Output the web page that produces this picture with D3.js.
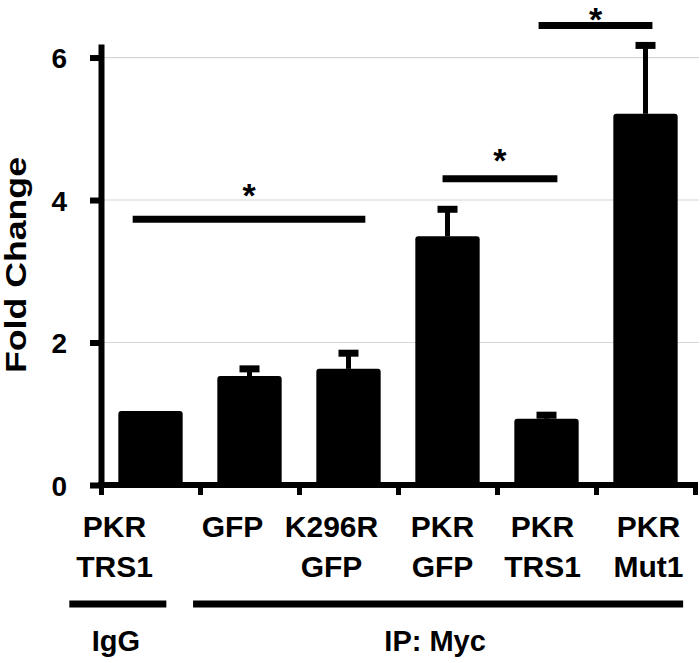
<!DOCTYPE html>
<html>
<head>
<meta charset="utf-8">
<script src="https://cdn.jsdelivr.net/npm/d3@7/dist/d3.min.js"></script>
<style>
  html, body { margin: 0; padding: 0; background: #fff; }
  svg { display: block; }
  text { font-family: "Liberation Sans", Arial, sans-serif; font-weight: bold; fill: #000; }
</style>
</head>
<body>
<svg id="chart" width="700" height="663"></svg>
<script>
// ---- data ----
const labelTop    = ["PKR", "GFP", "K296R", "PKR", "PKR", "PKR"];
const labelBottom = ["TRS1", "", "GFP", "GFP", "TRS1", "Mut1"];
const values      = [1.04, 1.53, 1.63, 3.49, 0.93, 5.21];
const errors      = [0, 0.10, 0.22, 0.38, 0.05, 0.96];
const yTicks      = [0, 2, 4, 6];
const yLabel      = "Fold Change";
const groupNames  = ["IgG", "IP: Myc"];
const groupFrom   = [-0.32, 0.93];   // category units
const groupTo     = [0.66, 5.88];
// significance brackets (category units and fold-change units)
const sigFrom  = [0.32, 3.45, 4.42];
const sigTo    = [2.67, 4.61, 5.57];
const sigLevel = [3.73, 4.30, 6.45];
const sigStarY = [4.14, 4.63, 6.61];
const sigText  = ["*", "*", "*"];

// ---- layout ----
const svg = d3.select("#chart");
const x0 = 101, x1 = 695, yBase = 485, yTop = 44;
const n = values.length;
const idx = d3.range(n);

const xBand = d3.scaleBand().domain(idx).range([x0, x1]).paddingInner(0.35).paddingOuter(0.175);
const xPos = d3.scaleLinear().domain([0, n]).range([x0, x1]);
const y = d3.scaleLinear().domain([0, 6.19]).range([yBase, yTop]);

// gridlines
svg.append("g").selectAll("line").data(yTicks.filter(d => d > 0)).join("line")
  .attr("x1", x0).attr("x2", 699)
  .attr("y1", d => y(d)).attr("y2", d => y(d))
  .attr("stroke", "#d6d6d6").attr("stroke-width", 1.2);

// bars
svg.append("g").selectAll("rect").data(idx).join("rect")
  .attr("x", i => xBand(i))
  .attr("width", xBand.bandwidth())
  .attr("y", i => y(values[i]))
  .attr("height", i => y(0) - y(values[i]))
  .attr("rx", 3)
  .attr("fill", "#000");

// error bars
const eb = svg.append("g");
idx.filter(i => errors[i] > 0).forEach(i => {
  const cx = xBand(i) + xBand.bandwidth() / 2;
  eb.append("line")
    .attr("x1", cx).attr("x2", cx)
    .attr("y1", y(values[i])).attr("y2", y(values[i] + errors[i]))
    .attr("stroke", "#000").attr("stroke-width", 5);
  eb.append("line")
    .attr("x1", cx - 10).attr("x2", cx + 10)
    .attr("y1", y(values[i] + errors[i])).attr("y2", y(values[i] + errors[i]))
    .attr("stroke", "#000").attr("stroke-width", 7);
});

// y axis
const yAxis = svg.append("g").attr("transform", `translate(${x0},0)`)
  .call(d3.axisLeft(y).tickValues(yTicks).tickFormat(d3.format("d"))
    .tickSize(11).tickSizeOuter(0).tickPadding(23));
yAxis.select(".domain").attr("stroke", "#000").attr("stroke-width", 6);
yAxis.selectAll(".tick line").attr("stroke", "#000").attr("stroke-width", 6);
yAxis.selectAll(".tick text")
  .style("font-family", "'Liberation Sans', Arial, sans-serif")
  .style("font-weight", "bold").attr("font-size", 28).attr("fill", "#000").attr("dy", "0.36em");

// x axis
const xAxis = svg.append("g").attr("transform", `translate(0,${yBase})`)
  .call(d3.axisBottom(xPos).tickValues(d3.range(n + 1)).tickFormat("")
    .tickSize(10).tickSizeOuter(0));
xAxis.select(".domain").attr("stroke", "#000").attr("stroke-width", 6)
  .attr("d", `M${x0 - 3},0H${x1 + 3}`);
xAxis.selectAll(".tick line").attr("stroke", "#000").attr("stroke-width", 5);

// category labels
const nudge = [-36, -17, -17, -5, -4, 3];
const lab = svg.append("g").attr("font-size", 30).attr("text-anchor", "middle");
idx.forEach(i => {
  const cx = xBand(i) + xBand.bandwidth() / 2 + nudge[i];
  lab.append("text").attr("x", cx).attr("y", 537).text(labelTop[i]);
  if (labelBottom[i]) lab.append("text").attr("x", cx).attr("y", 577).text(labelBottom[i]);
});

// group lines and names
groupNames.forEach((g, k) => {
  const a = xPos(groupFrom[k]), b = xPos(groupTo[k]);
  svg.append("line").attr("x1", a).attr("x2", b).attr("y1", 604).attr("y2", 604)
    .attr("stroke", "#000").attr("stroke-width", 7);
  svg.append("text").attr("x", (a + b) / 2 - (k === 0 ? 2 : 3)).attr("y", 651)
    .attr("text-anchor", "middle").attr("font-size", 29).text(g);
});

// significance
sigText.forEach((t, k) => {
  const a = xPos(sigFrom[k]), b = xPos(sigTo[k]);
  svg.append("line").attr("x1", a).attr("x2", b)
    .attr("y1", y(sigLevel[k])).attr("y2", y(sigLevel[k]))
    .attr("stroke", "#000").attr("stroke-width", 7);
  svg.append("text").attr("x", (a + b) / 2).attr("y", y(sigStarY[k]) + 17)
    .attr("text-anchor", "middle").attr("font-size", 34).text(t);
});

// y label
svg.append("text")
  .attr("transform", `translate(26,265) rotate(-90)`)
  .attr("text-anchor", "middle").attr("font-size", 29)
  .attr("textLength", 216).attr("lengthAdjust", "spacingAndGlyphs")
  .text(yLabel);
</script>
</body>
</html>
